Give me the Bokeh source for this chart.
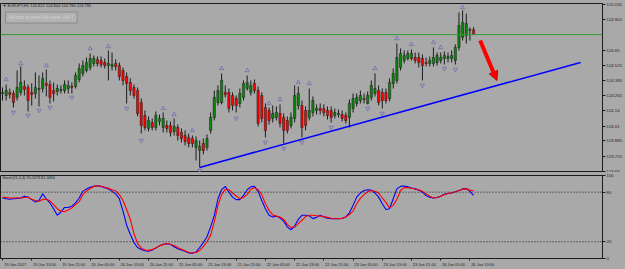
from bokeh.plotting import figure
from bokeh.layouts import column
from bokeh.models import Range1d, FixedTicker, Span, Label, Arrow, NormalHead
from bokeh.embed import file_html
from bokeh.resources import INLINE

# ---------------- data ----------------
symbol_header = "\u25bc EURJPY,H1  124.822 124.844 124.780 124.781"
trade_button = "Afficher le panel de trade, Alt+T"
stoch_header = "Stoch(21,3,4) 76.2678 81.3494"

opens = [124.285, 124.268, 124.294, 124.285, 124.252, 124.294, 124.344, 124.336, 124.294, 124.285,
         124.319, 124.327, 124.370, 124.361, 124.310, 124.302, 124.310, 124.310, 124.327, 124.344,
         124.344, 124.403, 124.454, 124.479, 124.504, 124.538, 124.572, 124.563, 124.546, 124.521,
         124.513, 124.538, 124.521, 124.479, 124.428, 124.378, 124.336, 124.310, 124.209, 124.100,
         123.991, 124.041, 123.999, 124.050, 123.999, 124.016, 124.016, 123.965, 123.999, 123.957,
         123.931, 123.915, 123.906, 123.831, 123.805, 123.864, 123.831, 123.974, 124.083, 124.209,
         124.209, 124.294, 124.294, 124.268, 124.243, 124.201, 124.252, 124.327, 124.294, 124.370,
         124.310, 124.268, 124.167, 124.142, 124.075, 124.083, 124.117, 124.083, 124.058, 124.016,
         124.075, 124.184, 124.184, 124.142, 124.083, 124.125, 124.142, 124.159, 124.159, 124.142,
         124.142, 124.100, 124.108, 124.108, 124.100, 124.083, 124.159, 124.201, 124.226, 124.243,
         124.201, 124.252, 124.285, 124.310, 124.294, 124.294, 124.243, 124.370, 124.395, 124.504,
         124.563, 124.580, 124.580, 124.588, 124.588, 124.580, 124.546, 124.538, 124.538, 124.546,
         124.563, 124.580, 124.580, 124.580, 124.563, 124.673, 124.757, 124.774, 124.816, 124.822]
highs = [124.336, 124.361, 124.327, 124.310, 124.479, 124.513, 124.395, 124.361, 124.370, 124.462,
         124.437, 124.462, 124.487, 124.395, 124.378, 124.361, 124.353, 124.395, 124.395, 124.378,
         124.462, 124.538, 124.563, 124.588, 124.622, 124.605, 124.597, 124.597, 124.580, 124.647,
         124.630, 124.572, 124.546, 124.504, 124.462, 124.412, 124.361, 124.336, 124.243, 124.142,
         124.092, 124.075, 124.134, 124.108, 124.125, 124.058, 124.050, 124.075, 124.024, 123.991,
         123.974, 123.948, 123.931, 123.923, 123.889, 123.906, 123.940, 124.125, 124.310, 124.353,
         124.454, 124.353, 124.327, 124.294, 124.268, 124.327, 124.395, 124.437, 124.395, 124.403,
         124.344, 124.294, 124.201, 124.167, 124.184, 124.176, 124.193, 124.117, 124.092, 124.125,
         124.353, 124.344, 124.226, 124.176, 124.327, 124.260, 124.193, 124.201, 124.193, 124.176,
         124.176, 124.159, 124.150, 124.142, 124.125, 124.235, 124.285, 124.285, 124.310, 124.285,
         124.302, 124.395, 124.454, 124.353, 124.327, 124.327, 124.412, 124.496, 124.706, 124.664,
         124.647, 124.647, 124.656, 124.630, 124.630, 124.614, 124.588, 124.597, 124.673, 124.630,
         124.630, 124.639, 124.630, 124.647, 124.698, 124.967, 124.984, 124.959, 124.841, 124.844]
lows = [124.226, 124.226, 124.243, 124.167, 124.226, 124.268, 124.268, 124.134, 124.184, 124.243,
        124.176, 124.294, 124.260, 124.201, 124.218, 124.268, 124.285, 124.285, 124.285, 124.285,
        124.327, 124.378, 124.428, 124.462, 124.479, 124.513, 124.513, 124.504, 124.496, 124.395,
        124.479, 124.479, 124.395, 124.353, 124.201, 124.268, 124.243, 124.092, 123.948, 123.974,
        123.965, 123.974, 123.974, 124.016, 123.957, 123.957, 123.923, 123.931, 123.889, 123.873,
        123.847, 123.831, 123.831, 123.721, 123.662, 123.772, 123.805, 123.948, 124.058, 124.184,
        124.193, 124.252, 124.125, 124.142, 124.125, 124.167, 124.226, 124.310, 124.268, 124.285,
        124.007, 124.041, 123.915, 124.024, 124.041, 124.058, 123.999, 123.864, 123.948, 123.991,
        124.041, 124.150, 123.915, 123.974, 124.058, 124.092, 124.108, 124.108, 124.092, 124.066,
        124.041, 124.075, 124.083, 124.050, 124.033, 123.999, 124.125, 124.176, 124.201, 124.201,
        124.193, 124.226, 124.260, 124.184, 124.159, 124.201, 124.218, 124.327, 124.370, 124.479,
        124.538, 124.563, 124.563, 124.538, 124.504, 124.395, 124.513, 124.513, 124.513, 124.521,
        124.538, 124.529, 124.546, 124.546, 124.529, 124.647, 124.731, 124.706, 124.731, 124.780]
closes = [124.294, 124.310, 124.277, 124.209, 124.336, 124.378, 124.319, 124.226, 124.277, 124.336,
          124.327, 124.412, 124.353, 124.252, 124.285, 124.327, 124.319, 124.361, 124.353, 124.336,
          124.437, 124.496, 124.521, 124.546, 124.580, 124.580, 124.538, 124.529, 124.521, 124.538,
          124.529, 124.513, 124.428, 124.395, 124.370, 124.310, 124.268, 124.117, 124.016, 123.999,
          124.058, 123.999, 124.100, 124.075, 124.075, 123.991, 123.957, 124.007, 123.931, 123.906,
          123.881, 123.864, 123.864, 123.889, 123.839, 123.805, 123.906, 124.083, 124.252, 124.310,
          124.395, 124.277, 124.159, 124.184, 124.184, 124.285, 124.370, 124.378, 124.353, 124.310,
          124.033, 124.075, 123.974, 124.058, 124.117, 124.125, 124.033, 123.974, 123.974, 124.083,
          124.268, 124.285, 123.999, 124.016, 124.142, 124.226, 124.159, 124.142, 124.125, 124.100,
          124.083, 124.125, 124.117, 124.075, 124.058, 124.201, 124.243, 124.252, 124.268, 124.235,
          124.268, 124.353, 124.327, 124.209, 124.226, 124.226, 124.378, 124.454, 124.588, 124.622,
          124.605, 124.622, 124.622, 124.563, 124.546, 124.521, 124.538, 124.563, 124.588, 124.605,
          124.588, 124.605, 124.597, 124.605, 124.673, 124.858, 124.883, 124.875, 124.824, 124.781]

stoch_main = [73, 72, 71.5, 72, 72.5, 73, 75, 74, 71, 68, 70, 78, 72, 67, 60, 52, 56, 61.5, 61.5, 63,
              67, 73, 81, 84, 86, 87, 87.7, 87, 85.5, 84, 81, 78, 72, 57, 40, 29, 19, 13, 10.5, 9,
              8.4, 10, 12.5, 15, 17, 17.5, 17, 14, 11.5, 10, 8.5, 6.5, 6, 7.5, 13, 19, 26, 38, 52, 72,
              83, 87, 80, 74, 71, 71, 76, 83, 86.5, 87, 81, 70, 60, 52, 50, 51, 49, 45, 38, 34.5,
              39, 47, 52, 52, 51.5, 48, 49.5, 52, 50, 48.5, 48, 48, 48, 48.3, 50, 55, 64, 74, 79, 82,
              83, 82.5, 79, 74, 66, 59, 60, 72, 84, 87, 87.5, 86.5, 85, 84, 82.5, 80, 76, 74, 73, 73.5,
              75, 77.5, 78.5, 79, 80.5, 82, 84, 84.5, 81, 76.2678]
stoch_signal = [74, 73.5, 73, 73, 73, 73, 73.5, 74, 71.5, 70, 69, 71, 71.5, 69.5, 65, 60, 57, 56.5, 58.5, 61,
                65, 68.5, 77, 81.5, 84.5, 87, 87.7, 87.2, 86, 84.6, 83, 81.5, 77, 70, 59, 47, 30, 18, 12.5, 10,
                9.5, 10.5, 12.5, 15, 16.5, 17.8, 17, 15.5, 13, 11, 9, 7, 6.7, 7, 9.5, 14, 20, 28, 44, 64,
                77, 83.5, 83, 79, 75.4, 72, 73.5, 77, 83.5, 85.5, 83, 77, 66, 58, 52.5, 51, 50, 47, 41, 37.4,
                37.8, 42, 46, 50.5, 52, 52, 51.5, 51, 50.5, 49.5, 48.5, 47.9, 47.9, 48.5, 49.8, 53, 57, 66, 72.5, 77,
                80.5, 82, 81, 79, 73, 67.6, 61, 64, 71.5, 82, 85.5, 85.5, 84.8, 83.8, 83, 81, 78, 75, 73, 73.5,
                75, 77, 78.5, 79, 80.5, 82, 83.5, 84, 82.5, 81.3494]

up_fractal_bar = [1, 5, 12, 24, 29, 44, 47, 52, 60, 67, 73, 76, 81, 84, 102, 108, 112, 118, 120, 126]
up_fractal_price = [124.403, 124.538, 124.521, 124.664, 124.681, 124.159, 124.108, 123.974, 124.496, 124.479,
                    124.201, 124.235, 124.378, 124.370, 124.496, 124.748, 124.698, 124.715, 124.673, 125.009]
down_fractal_bar = [3, 7, 10, 13, 19, 34, 38, 54, 64, 72, 77, 82, 90, 100, 104, 115, 121, 124]
down_fractal_price = [124.125, 124.100, 124.142, 124.167, 124.252, 124.159, 123.889, 123.637, 124.075, 123.873,
                      123.822, 123.873, 123.999, 124.159, 124.117, 124.353, 124.496, 124.487]

trend_bar = [54.0, 158.3]
trend_price = [123.662, 124.546]
arrow_bar = [130.8, 135.4]
arrow_price = [124.731, 124.395]
bid_price = 124.781

price_ticks = [125.035, 124.905, 124.650, 124.525, 124.395, 124.265, 124.140, 124.010, 123.885, 123.755, 123.630]
stoch_ticks = [0, 20, 80, 100]
stoch_levels = [20, 80]
time_tick_bars = [0, 8, 16, 24, 32, 40, 48, 56, 64, 72, 80, 88, 96, 104, 112, 120, 128]
time_tick_labels = ["19 Jun 2017", "19 Jun 13:00", "19 Jun 21:00", "20 Jun 05:00", "20 Jun 13:00",
                    "20 Jun 21:00", "21 Jun 05:00", "21 Jun 13:00", "21 Jun 21:00", "22 Jun 05:00",
                    "22 Jun 13:00", "22 Jun 21:00", "23 Jun 05:00", "23 Jun 13:00", "23 Jun 21:00",
                    "26 Jun 05:00", "26 Jun 13:00"]

# ---------------- style ----------------
BG = "#A9A9A9"
DARK = "#1c1c1c"
FONT = "Liberation Sans"
BAR_PX = 3.67
FRAME_W = 605
X0 = -2.0 / BAR_PX
X1 = X0 + FRAME_W / BAR_PX
PY0, PY1 = 123.628, 125.043
SY0, SY1 = -0.3, 100.2

x_range = Range1d(X0, X1)


def xd(px):
    return X0 + px / BAR_PX


def style(p):
    p.background_fill_color = BG
    p.border_fill_color = BG
    p.outline_line_color = DARK
    p.outline_line_width = 1
    p.xgrid.visible = False
    p.ygrid.visible = False
    for ax in p.yaxis:
        ax.axis_line_color = DARK
        ax.major_tick_line_color = DARK
        ax.major_tick_out = 3
        ax.major_tick_in = 0
        ax.minor_tick_line_color = None
        ax.major_label_standoff = 1
        ax.major_label_text_font = FONT
        ax.major_label_text_font_size = "4.3px"
        ax.major_label_text_color = DARK


# ---------------- price panel ----------------
p = figure(width=625, height=172, x_range=x_range, y_range=Range1d(PY0, PY1),
           output_backend="svg", toolbar_location=None, x_axis_location=None,
           y_axis_location="right", min_border_left=0, min_border_right=20,
           min_border_top=3, min_border_bottom=1)
style(p)
p.yaxis.ticker = FixedTicker(ticks=price_ticks)

bars = list(range(len(opens)))
up_col, dn_col = "#0A860A", "#FF0000"
tops = [max(o, c) for o, c in zip(opens, closes)]
bots = [min(o, c) for o, c in zip(opens, closes)]
cols = [up_col if c > o else (dn_col if c < o else DARK) for o, c in zip(opens, closes)]

p.segment(x0=bars, y0=lows, x1=bars, y1=highs, line_color=DARK, line_width=1)
p.vbar(x=bars, width=0.62, top=tops, bottom=bots, fill_color=cols, line_color=DARK, line_width=0.5)

p.scatter(up_fractal_bar, up_fractal_price, marker="triangle", size=4.2,
          fill_color="#A4A4CC", line_color="#6A6A9C", line_width=0.7)
p.scatter(down_fractal_bar, down_fractal_price, marker="inverted_triangle", size=4.2,
          fill_color="#A4A4CC", line_color="#6A6A9C", line_width=0.7)

p.add_layout(Span(location=bid_price, dimension="width", line_color="#2f9e2f", line_width=1))
p.line(trend_bar, trend_price, line_color="#0000FF", line_width=1.6)
p.add_layout(Arrow(end=NormalHead(size=9, fill_color="#FF0000", line_color="#C00000", line_width=1),
                   x_start=arrow_bar[0], y_start=arrow_price[0],
                   x_end=arrow_bar[1], y_end=arrow_price[1],
                   line_color="#FF0000", line_width=4))

p.add_layout(Label(x=xd(606.5), y=bid_price, text=f"{bid_price:.3f}", text_font=FONT,
                   text_font_size="4.3px", text_color="white", text_baseline="middle",
                   background_fill_color="black", padding=1))
p.add_layout(Label(x=xd(2), y=PY1 - 2 * (PY1 - PY0) / 168, text=symbol_header, text_font=FONT,
                   text_font_size="4px", text_color=DARK, text_baseline="middle"))
p.add_layout(Label(x=xd(5), y=PY1 - 14 * (PY1 - PY0) / 168, text=trade_button, text_font=FONT,
                   text_font_size="4.7px", text_color="#D0D0D0", text_baseline="middle",
                   background_fill_color="#B2B2B2", border_line_color="#8A8A8A", padding=3))

# ---------------- stochastic panel ----------------
s = figure(width=625, height=97, x_range=x_range, y_range=Range1d(SY0, SY1),
           output_backend="svg", toolbar_location=None, y_axis_location="right",
           min_border_left=0, min_border_right=20, min_border_top=3, min_border_bottom=10)
style(s)
s.yaxis.ticker = FixedTicker(ticks=stoch_ticks)
for lv in stoch_levels:
    s.add_layout(Span(location=lv, dimension="width", line_color=DARK, line_width=1, line_dash="1 2"))
s.line(bars, stoch_main, line_color="#0000FF", line_width=1.1)
s.line(bars, stoch_signal, line_color="#FF0000", line_width=1.1)
s.add_layout(Label(x=xd(2), y=SY1 - 3 * (SY1 - SY0) / 84, text=stoch_header, text_font=FONT,
                   text_font_size="3.8px", text_color=DARK, text_baseline="middle"))

label_shift = 3.5
centers = [b + label_shift for b in time_tick_bars]
xa = s.xaxis[0]
xa.ticker = FixedTicker(ticks=centers, minor_ticks=time_tick_bars)
xa.major_label_overrides = {c: t for c, t in zip(centers, time_tick_labels)}
xa.axis_line_color = DARK
xa.major_tick_line_color = None
xa.major_tick_out = 0
xa.major_tick_in = 0
xa.minor_tick_line_color = DARK
xa.minor_tick_out = 2
xa.minor_tick_in = 0
xa.major_label_standoff = 1
xa.major_label_text_font = FONT
xa.major_label_text_font_size = "4px"
xa.major_label_text_color = DARK

layout = column(p, s, spacing=0)
layout.styles = {"background-color": BG}
open("out.html", "w").write(file_html(layout, INLINE))
